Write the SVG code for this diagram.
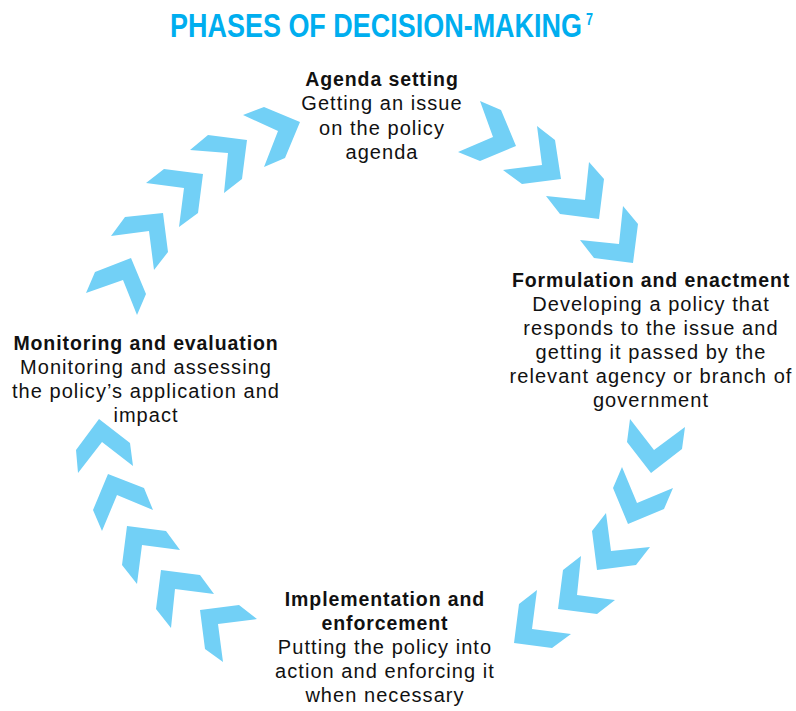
<svg xmlns="http://www.w3.org/2000/svg" width="796" height="711" viewBox="0 0 796 711">
<style>
.title{font-family:"Liberation Sans",Arial,sans-serif;font-weight:bold;font-size:33.5px;fill:#00AEEF}
.sup{font-family:"Liberation Sans",Arial,sans-serif;font-weight:bold;font-size:16px;fill:#00AEEF}
.h{font-family:"Liberation Sans",Arial,sans-serif;font-weight:bold;font-size:19.5px;letter-spacing:0.9px;fill:#111;text-anchor:middle}
.t{font-family:"Liberation Sans",Arial,sans-serif;font-size:20px;letter-spacing:1.05px;fill:#111;text-anchor:middle}
.chev{fill:#72D0F6}
</style>
<rect width="796" height="711" fill="#fff"/>
<g id="title">
<text class="title" x="170" y="37" textLength="412" lengthAdjust="spacingAndGlyphs">PHASES OF DECISION-MAKING</text>
<text class="sup" x="586" y="25" textLength="7" lengthAdjust="spacingAndGlyphs">7</text>
</g>
<g id="connectors">
<polygon class="chev" points="480,101 501,110 516,146 480,161 458,152 493,137"/>
<polygon class="chev" points="537,126 555,140 561,179 522,184 503,170 542,165"/>
<polygon class="chev" points="589,162 604,179 599,219 560,214 546,196 585,200"/>
<polygon class="chev" points="623,206 638,224 633,263 594,258 580,240 619,244"/>
<polygon class="chev" points="630,419 627,442 651,473 682,449 685,427 654,450"/>
<polygon class="chev" points="622,467 613,488 628,524 664,509 673,488 637,503"/>
<polygon class="chev" points="606,513 592,531 597,570 636,565 650,547 611,551"/>
<polygon class="chev" points="581,556 563,570 558,609 597,614 615,600 577,595"/>
<polygon class="chev" points="537,590 519,604 514,643 552,648 571,634 532,629"/>
<polygon class="chev" points="200,610 239,605 257,619 218,624 223,662 205,649"/>
<polygon class="chev" points="161,570 156,609 171,628 175,589 214,594 200,575"/>
<polygon class="chev" points="127,526 122,565 137,584 142,545 180,550 166,531"/>
<polygon class="chev" points="108,474 93,510 102,531 117,495 153,510 144,488"/>
<polygon class="chev" points="99,419 76,450 78,473 102,442 133,466 130,443"/>
<polygon class="chev" points="86,293 95,272 131,258 146,294 137,315 123,280"/>
<polygon class="chev" points="111,236 125,217 163,213 168,252 154,270 149,231"/>
<polygon class="chev" points="146,183 164,169 203,174 198,213 179,227 184,188"/>
<polygon class="chev" points="190,150 208,135 247,140 242,179 224,193 228,153"/>
<polygon class="chev" points="243,115 264,107 300,122 285,158 264,167 278,131"/>
</g>
<g id="agenda">
<text class="h" x="382" y="86">Agenda setting</text>
<text class="t" x="382" y="110">Getting an issue</text>
<text class="t" x="382" y="135">on the policy</text>
<text class="t" x="382" y="159">agenda</text>
</g>
<g id="formulation">
<text class="h" x="651" y="287">Formulation and enactment</text>
<text class="t" x="651" y="311">Developing a policy that</text>
<text class="t" x="651" y="335">responds to the issue and</text>
<text class="t" x="651" y="359">getting it passed by the</text>
<text class="t" x="651" y="383">relevant agency or branch of</text>
<text class="t" x="651" y="407">government</text>
</g>
<g id="implementation">
<text class="h" x="385" y="606">Implementation and</text>
<text class="h" x="385" y="630">enforcement</text>
<text class="t" x="385" y="654">Putting the policy into</text>
<text class="t" x="385" y="678">action and enforcing it</text>
<text class="t" x="385" y="702">when necessary</text>
</g>
<g id="monitoring">
<text class="h" x="146" y="350">Monitoring and evaluation</text>
<text class="t" x="146" y="374">Monitoring and assessing</text>
<text class="t" x="146" y="398">the policy’s application and</text>
<text class="t" x="146" y="422">impact</text>
</g>
</svg>
